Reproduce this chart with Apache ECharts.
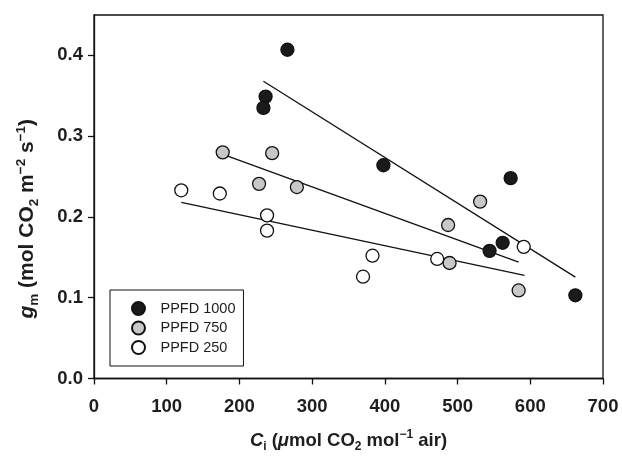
<!DOCTYPE html>
<html><head><meta charset="utf-8">
<script src="https://cdn.jsdelivr.net/npm/echarts@6/dist/echarts.min.js"></script>
<style>html,body{margin:0;padding:0;background:#fff}#c{width:622px;height:458px}</style>
</head><body><div id="c"></div>
<script>
// Data
var seriesNames = ['PPFD 1000', 'PPFD 750', 'PPFD 250'];
var ci1000 = [266, 236, 233, 398, 573, 562, 544, 662];
var gm1000 = [0.407, 0.349, 0.335, 0.264, 0.248, 0.168, 0.158, 0.103];
var ci750 = [177, 245, 227, 279, 531, 487, 489, 584];
var gm750 = [0.280, 0.279, 0.241, 0.237, 0.219, 0.190, 0.143, 0.109];
var ci250 = [120, 173, 238, 238, 383, 370, 472, 591];
var gm250 = [0.233, 0.229, 0.202, 0.183, 0.152, 0.126, 0.148, 0.163];
// regression line end points
var fit1000 = [[233, 0.368], [662, 0.1255]];
var fit750 = [[183, 0.2757], [584, 0.144]];
var fit250 = [[120, 0.218], [592, 0.1276]];
var xTicks = [0, 100, 200, 300, 400, 500, 600, 700];
var yTicks = [0, 0.1, 0.2, 0.3, 0.4];

function pairs(xs, ys) { return xs.map(function (x, i) { return [x, ys[i]]; }); }

var FONT = '"Liberation Sans", Arial, Helvetica, sans-serif';
var TXT = '#1e1e1e';
var fills = ['#1a1a1a', '#c8c8c8', '#ffffff'];
var sets = [pairs(ci1000, gm1000), pairs(ci750, gm750), pairs(ci250, gm250)];
var fits = [fit1000, fit750, fit250];

function richFor(fs, sfs) {
  return {
    n: { fontFamily: FONT, fontWeight: 'bold', fontSize: fs, color: TXT, lineHeight: fs + 6 },
    it: { fontFamily: FONT, fontWeight: 'bold', fontStyle: 'italic', fontSize: fs, color: TXT, lineHeight: fs + 6 },
    sub: { fontFamily: FONT, fontWeight: 'bold', fontSize: sfs, color: TXT, lineHeight: sfs, verticalAlign: 'bottom' },
    sup: { fontFamily: FONT, fontWeight: 'bold', fontSize: sfs, color: TXT, lineHeight: sfs, verticalAlign: 'top' }
  };
}

var series = [];
fits.forEach(function (f) {
  series.push({ type: 'line', data: f, symbol: 'none', silent: true, z: 1,
    lineStyle: { color: '#111', width: 1.3 } });
});
sets.forEach(function (d, i) {
  series.push({ type: 'scatter', name: seriesNames[i], data: d, symbol: 'circle', symbolSize: 13, z: 3,
    itemStyle: { color: fills[i], borderColor: '#111', borderWidth: 1.3, opacity: 1 } });
});

var chart = echarts.init(document.getElementById('c'), null, { renderer: 'canvas' });
chart.setOption({
  animation: false,
  backgroundColor: '#fff',
  grid: { left: 94, right: 19, top: 15, bottom: 78, show: true, borderColor: '#111', borderWidth: 1.3 },
  legend: {
    data: seriesNames, orient: 'vertical', left: 110, top: 290,
    padding: [11, 8, 11, 21], itemWidth: 34, itemHeight: 13, itemGap: 4.5,
    backgroundColor: '#fff', borderColor: '#111', borderWidth: 1,
    textStyle: { fontFamily: FONT, fontSize: 14.5, color: TXT, lineHeight: 14 },
    icon: 'circle'
  },
  xAxis: {
    type: 'value', min: 0, max: 700, interval: 100,
    axisLine: { show: true, onZero: false, lineStyle: { color: '#111', width: 1.3 } },
    axisTick: { show: true, inside: false, length: 6, lineStyle: { color: '#111', width: 1.3 } },
    axisLabel: { fontFamily: FONT, fontWeight: 'bold', fontSize: 18.5, color: TXT, margin: 19,
      customValues: xTicks },
    splitLine: { show: false },
    name: '{it|C}{sub|i}{n| (}{it|μ}{n|mol CO}{sub|2}{n| mol}{sup|−1}{n| air)}',
    nameLocation: 'middle', nameGap: 50,
    nameTextStyle: { rich: richFor(18.5, 12) }
  },
  yAxis: {
    type: 'value', min: 0, max: 0.45,
    axisLine: { show: true, onZero: false, lineStyle: { color: '#111', width: 1.3 } },
    axisTick: { show: true, inside: false, length: 6, lineStyle: { color: '#111', width: 1.3 },
      customValues: yTicks },
    axisLabel: { fontFamily: FONT, fontWeight: 'bold', fontSize: 18.5, color: TXT, margin: 11,
      customValues: yTicks, formatter: function (v) { return v.toFixed(1); } },
    splitLine: { show: false },
    name: '{it|g}{sub|m}{n| (mol CO}{sub|2}{n| m}{sup|−2}{n| s}{sup|−1}{n|)}',
    nameLocation: 'middle', nameGap: 53, nameRotate: 90,
    nameTextStyle: { rich: richFor(21, 13.5), padding: [0, 44, 0, 0] }
  },
  series: series
});
</script></body></html>
